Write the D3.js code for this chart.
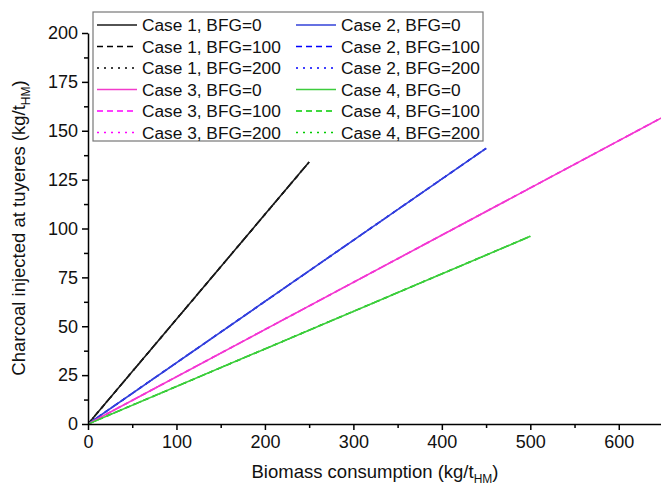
<!DOCTYPE html>
<html>
<head>
<meta charset="utf-8">
<script src="https://cdn.jsdelivr.net/npm/d3@7"></script>
<style>
  body { margin: 0; background: #fff; }
  text { font-family: "Liberation Sans", Arial, sans-serif; }
</style>
</head>
<body>
<script>
// biomass consumption (kg/tHM) at the ends of each line
const caseNames = ["Case 1", "Case 2", "Case 3", "Case 4"];
const bfgLevels = [0, 100, 200];
const xStart = [0, 0, 0, 0];
const xEnd = [250, 450, 650, 500];
// charcoal injected (kg/tHM) at the ends
const yStart = [0, 0, 0, 0];
const yEnd = [134, 141, 157, 96];
const xTicks = [0, 100, 200, 300, 400, 500, 600];
const yTicks = [0, 25, 50, 75, 100, 125, 150, 175, 200];

const solidColors = ["#1a1a1a", "#3342d8", "#f23ccb", "#3dcc3d"];
const brightColors = ["#000000", "#0000ff", "#ff00ff", "#00cc00"];

const w = 661, h = 488;

const svg = d3.select("body").append("svg")
  .attr("width", w).attr("height", h);

const x = d3.scaleLinear().domain([0, 650]).range([88, 663]);
const y = d3.scaleLinear().domain([0, 200]).range([424, 33]);

// series table
const series = [];
caseNames.forEach((c, i) => {
  bfgLevels.forEach((b, j) => {
    series.push({
      name: c + ", BFG=" + b,
      ci: i, bi: j,
      pts: [[xStart[i], yStart[i]], [xEnd[i], yEnd[i]]]
    });
  });
});

const dashFor = (bi) => bi === 0 ? null : (bi === 1 ? "6,4" : "2,5");
const colorFor = (d) => d.bi === 0 ? solidColors[d.ci] : brightColors[d.ci];

const line = d3.line().x(d => x(d[0])).y(d => y(d[1]));

const plot = svg.append("g");
plot.append("clipPath").attr("id", "clip")
  .append("rect").attr("x", 88).attr("y", 0).attr("width", 600).attr("height", 425);

// dashed/dotted first, solid last on top
const ordered = series.slice().sort((a, b) => b.bi - a.bi);
plot.selectAll("path.series")
  .data(ordered)
  .join("path")
  .attr("class", "series")
  .attr("clip-path", "url(#clip)")
  .attr("d", d => line(d.pts))
  .attr("fill", "none")
  .attr("stroke", colorFor)
  .attr("stroke-width", 1.6)
  .attr("stroke-dasharray", d => dashFor(d.bi));

// axes
svg.append("g").attr("transform", "translate(0,424)")
  .call(d3.axisBottom(x).tickValues(xTicks).tickSize(6).tickPadding(5).tickSizeOuter(0));
svg.append("g").attr("transform", "translate(0,424)")
  .call(d3.axisBottom(x).tickValues(d3.range(50, 650, 100)).tickSize(4).tickFormat("").tickSizeOuter(0))
  .select(".domain").remove();
svg.append("g").attr("transform", "translate(88,0)")
  .call(d3.axisLeft(y).tickValues(yTicks).tickSize(6).tickPadding(4).tickSizeOuter(0));
svg.append("g").attr("transform", "translate(88,0)")
  .call(d3.axisLeft(y).tickValues(d3.range(12.5, 200, 25)).tickSize(4).tickFormat("").tickSizeOuter(0))
  .select(".domain").remove();

svg.selectAll(".tick text").style("font-size", "18px").attr("fill", "#111");
svg.selectAll(".domain, .tick line").attr("stroke", "#000").attr("stroke-width", 1.5);

// axis titles
const xt = svg.append("text").attr("x", 375).attr("y", 478)
  .attr("text-anchor", "middle").style("font-size", "18.5px").attr("fill", "#111");
xt.append("tspan").text("Biomass consumption (kg/t");
xt.append("tspan").text("HM").attr("dy", 5).style("font-size", "12px");
xt.append("tspan").text(")").attr("dy", -5);

const yt = svg.append("text").attr("transform", "translate(25,228) rotate(-90)")
  .attr("text-anchor", "middle").style("font-size", "18.5px").attr("fill", "#111");
yt.append("tspan").text("Charcoal injected at tuyeres (kg/t");
yt.append("tspan").text("HM").attr("dy", 5).style("font-size", "12px");
yt.append("tspan").text(")").attr("dy", -5);

// legend
const legend = svg.append("g");
legend.append("rect").attr("x", 93).attr("y", 12).attr("width", 390).attr("height", 129)
  .attr("fill", "#fff").attr("stroke", "#777").attr("stroke-width", 1.2);

const legendOrder = [0, 2].flatMap(ci => bfgLevels.map((b, bi) => ({ ci, bi, col: 0 })))
  .concat([1, 3].flatMap(ci => bfgLevels.map((b, bi) => ({ ci, bi, col: 1 }))));
const colX = [97, 296];

legend.selectAll("g.item")
  .data(legendOrder.map((d, k) => Object.assign({ row: k % 6 }, d, series.find(s => s.ci === d.ci && s.bi === d.bi))))
  .join("g")
  .attr("class", "item")
  .attr("transform", d => `translate(${colX[d.col]},${25 + d.row * 21.5})`)
  .each(function(d) {
    const g = d3.select(this);
    g.append("line").attr("x1", 0).attr("x2", 40).attr("y1", 0).attr("y2", 0)
      .attr("stroke", colorFor(d)).attr("stroke-width", 1.6)
      .attr("stroke-dasharray", dashFor(d.bi));
    g.append("text").attr("x", 45).attr("y", 6.3).text(d.name)
      .style("font-size", "17.3px").attr("fill", "#111");
  });
</script>
</body>
</html>
